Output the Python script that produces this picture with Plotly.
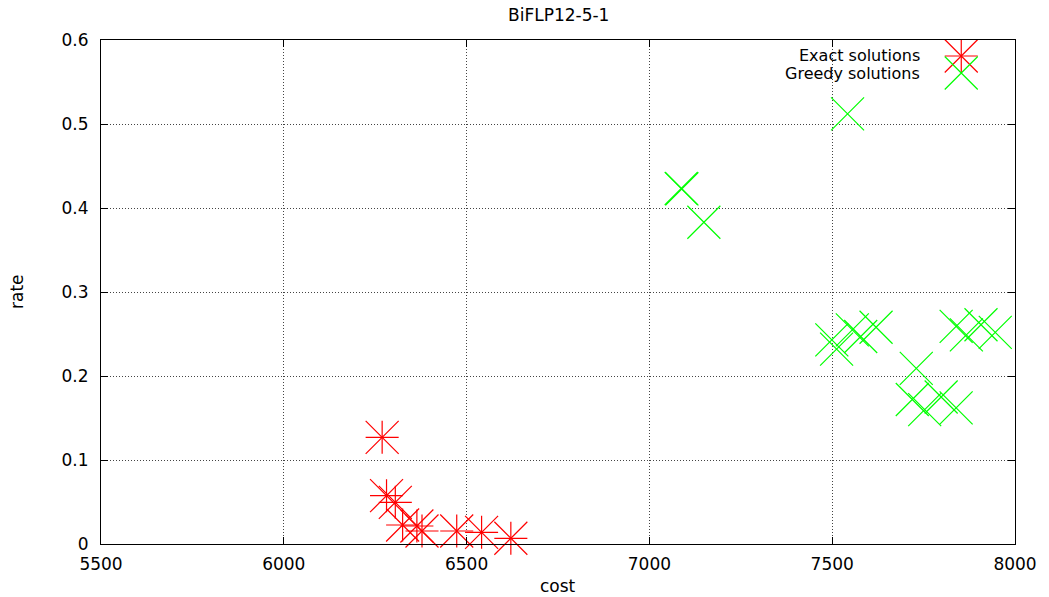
import plotly.graph_objects as go

# ---- data ----
exact_cost = [6269, 6281, 6305, 6325, 6364, 6378, 6473, 6541, 6621]
exact_rate = [0.127, 0.0575, 0.0496, 0.0226, 0.0214, 0.0155, 0.0155, 0.0139, 0.0068]

greedy_cost = [7087, 7089, 7149, 7542,
               7499, 7512, 7555, 7578, 7620,
               7839, 7867, 7907, 7946,
               7730, 7719, 7753, 7798, 7839]
greedy_rate = [0.4232, 0.4228, 0.383, 0.512,
               0.243, 0.232, 0.255, 0.247, 0.258,
               0.259, 0.249, 0.261, 0.252,
               0.209, 0.172, 0.160, 0.175, 0.162]

series_names = ["Exact solutions", "Greedy solutions"]
x_ticks = [5500, 6000, 6500, 7000, 7500, 8000]
y_ticks = [0, 0.1, 0.2, 0.3, 0.4, 0.5, 0.6]
y_tick_text = ["0", "0.1", "0.2", "0.3", "0.4", "0.5", "0.6"]

RED = "#ff0000"
GREEN = "#00ff00"
FONT = "DejaVu Sans, Liberation Sans, Arial, sans-serif"
FS = 17
LFS = 16      # legend text size (lines are only 17 px apart)
XS = 33       # x-thin marker size
CS = 23.6     # cross-thin marker size (arm ~ same as x)

fig = go.Figure()

def star(x, y, xa="x", ya="y"):
    fig.add_trace(go.Scatter(x=x, y=y, mode="markers", xaxis=xa, yaxis=ya,
                             marker=dict(symbol="x-thin", size=XS, line=dict(color=RED, width=1.2)),
                             showlegend=False, cliponaxis=False, hoverinfo="skip"))
    fig.add_trace(go.Scatter(x=x, y=y, mode="markers", xaxis=xa, yaxis=ya,
                             marker=dict(symbol="cross-thin", size=CS, line=dict(color=RED, width=1.2)),
                             showlegend=False, cliponaxis=False, hoverinfo="skip"))

def cross(x, y, xa="x", ya="y"):
    fig.add_trace(go.Scatter(x=x, y=y, mode="markers", xaxis=xa, yaxis=ya,
                             marker=dict(symbol="x-thin", size=XS, line=dict(color=GREEN, width=1.2)),
                             showlegend=False, cliponaxis=False, hoverinfo="skip"))

star(exact_cost, exact_rate)
cross(greedy_cost, greedy_rate)

# ---- legend key (drawn on an overlay axis in plot-fraction units) ----
KEY_X = 0.9412
KEY_Y = [0.9683, 0.9345]
TEXT_X = 0.8943
star([KEY_X], [KEY_Y[0]], "x2", "y2")
cross([KEY_X], [KEY_Y[1]], "x2", "y2")

annotations = []
for name, ky in zip(series_names, KEY_Y):
    annotations.append(dict(text=name, xref="paper", yref="paper", x=TEXT_X, y=ky,
                            xanchor="right", yanchor="middle", xshift=3, showarrow=False,
                            borderpad=0,
                            font=dict(family=FONT, size=LFS, color="black")))
annotations.append(dict(text="cost", xref="paper", yref="paper", x=0.5, y=0,
                        xanchor="center", yanchor="middle", yshift=-42, showarrow=False,
                        font=dict(family=FONT, size=FS, color="black")))
annotations.append(dict(text="rate", xref="paper", yref="paper", x=0, y=0.5,
                        xanchor="center", yanchor="middle", xshift=-84, textangle=-90,
                        showarrow=False, font=dict(family=FONT, size=FS, color="black")))
annotations.append(dict(text="BiFLP12-5-1", xref="paper", yref="paper", x=0.5, y=1,
                        xanchor="center", yanchor="middle", yshift=25, showarrow=False,
                        font=dict(family=FONT, size=FS, color="black")))

axis_common = dict(showline=True, linecolor="black", linewidth=1, mirror="ticks",
                   ticks="inside", ticklen=7, tickcolor="black", tickwidth=1,
                   showgrid=True, gridcolor="#444444", gridwidth=1, griddash="1px,2px",
                   zeroline=False, tickfont=dict(family=FONT, size=FS, color="black"))

fig.update_layout(
    width=1049, height=597,
    margin=dict(l=101, r=30, t=40, b=53),
    paper_bgcolor="white", plot_bgcolor="white",
    showlegend=False,
    xaxis=dict(range=[5500, 8000], tickvals=x_ticks, ticklabelstandoff=5, **axis_common),
    yaxis=dict(range=[0, 0.6], tickvals=y_ticks, ticktext=y_tick_text, ticklabelstandoff=8, **axis_common),
    xaxis2=dict(range=[0, 1], overlaying="x", visible=False, fixedrange=True),
    yaxis2=dict(range=[0, 1], overlaying="y", visible=False, fixedrange=True),
    annotations=annotations,
)

fig.write_html("out.html")
